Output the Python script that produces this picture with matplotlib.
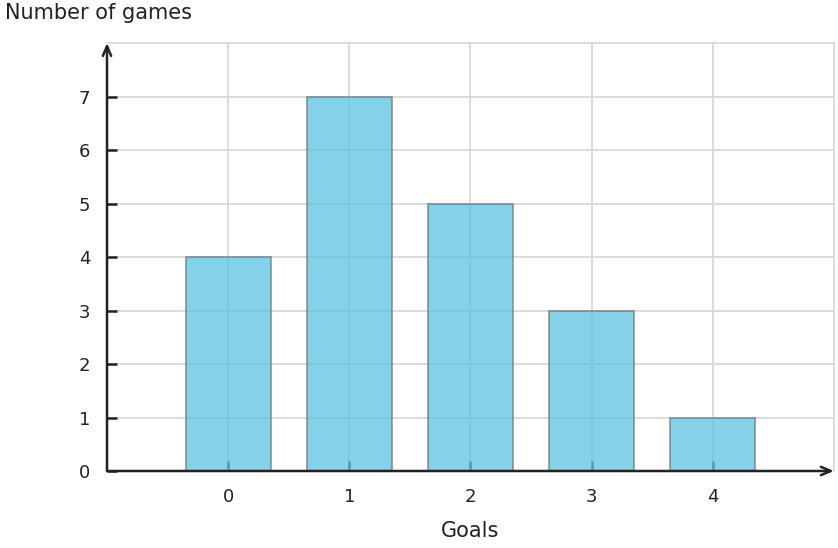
import numpy as np
import matplotlib.pyplot as plt

# Data
goals = [0, 1, 2, 3, 4]
games = [4, 7, 5, 3, 1]
yticks = [0, 1, 2, 3, 4, 5, 6, 7]

fig = plt.figure(figsize=(8.38, 5.48), dpi=100)
ax = fig.add_axes([0.1277, 0.1405, 0.995 - 0.1277, 0.9215 - 0.1405])

ax.set_xlim(-1, 5)
ax.set_ylim(0, 8)
ax.set_xticks(goals)
ax.set_yticks(yticks)
ax.grid(True, color="#d6d6d6", linewidth=1.2, zorder=0)
ax.set_axisbelow(True)

ax.bar(goals, games, width=0.7, color="#5bc2e3", alpha=0.75,
       edgecolor="#7a7a7a", linewidth=1.3, zorder=3)

for s in ["top", "right"]:
    ax.spines[s].set_color("#d6d6d6")
    ax.spines[s].set_linewidth(1.2)
for s in ["left", "bottom"]:
    ax.spines[s].set_visible(False)

# axis arrows
arrow = dict(arrowstyle="->,head_length=0.7,head_width=0.3", color="#222222",
             lw=1.8, shrinkA=0, shrinkB=0)
ax.annotate("", xy=(5.0, 0), xytext=(-1, 0), xycoords="data",
            arrowprops=arrow, annotation_clip=False)
ax.annotate("", xy=(-1, 8.0), xytext=(-1, 0), xycoords="data",
            arrowprops=arrow, annotation_clip=False)

ax.tick_params(direction="in", length=7, width=1.8, color="#222222",
               labelsize=13, labelcolor="#222222")
ax.tick_params(axis="y", pad=12)
ax.tick_params(axis="x", pad=12)

ax.set_xlabel("Goals", fontsize=15, color="#222222", labelpad=11)
fig.text(0.006, 0.976, "Number of games", fontsize=15, color="#222222",
         ha="left", va="center")

fig.savefig("out.png", dpi=100)
